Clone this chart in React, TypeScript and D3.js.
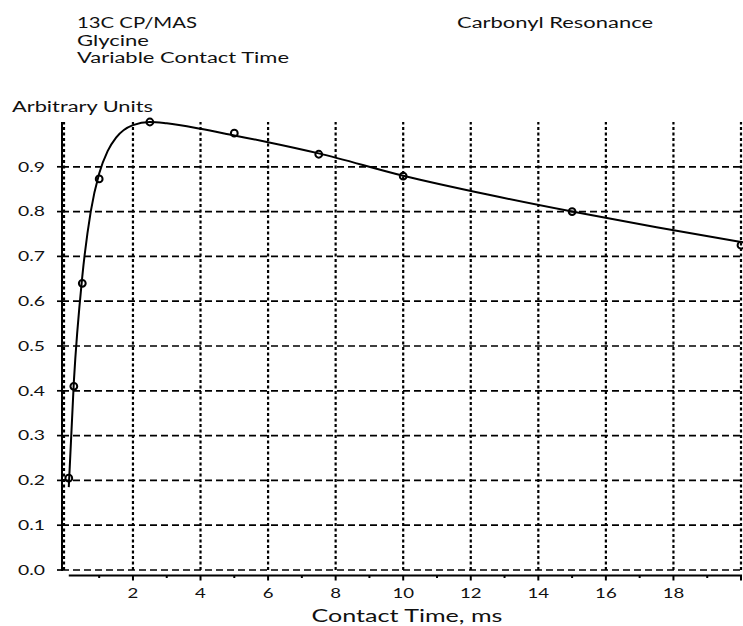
import React from "react";
import * as d3 from "d3";

const titleLines = ["13C CP/MAS", "Glycine", "Variable Contact Time"];
const titleWidths = [120, 72, 212];
const subtitle = "Carbonyl Resonance";
const yLabel = "Arbitrary Units";
const xLabel = "Contact Time, ms";

// measured points
const contactTimes = [0.1, 0.25, 0.5, 1.0, 2.5, 5, 7.5, 10, 15, 20];
const intensities = [0.205, 0.41, 0.64, 0.873, 1.0, 0.975, 0.928, 0.879, 0.80, 0.725];

// fitted curve
const fitTimes = [0.1, 0.25, 0.5, 0.75, 1.0, 1.25, 1.5, 2.0, 2.5, 3.0, 4.0, 5.0, 6.0, 7.5, 10, 12.5, 15, 17.5, 20];
const fitValues = [0.185, 0.42, 0.655, 0.8, 0.885, 0.935, 0.965, 0.993, 1.0, 0.997, 0.985, 0.97, 0.955, 0.93, 0.88, 0.838, 0.8, 0.765, 0.732];

const xMajorTicks = [2, 4, 6, 8, 10, 12, 14, 16, 18, 20];
const xTickLabels = ["2", "4", "6", "8", "10", "12", "14", "16", "18", ""];
const xMinorTicks = [1, 3, 5, 7, 9, 11, 13, 15, 17, 19];
const yTicks = [0.0, 0.1, 0.2, 0.3, 0.4, 0.5, 0.6, 0.7, 0.8, 0.9];

const W = 743;
const H = 626;
const FONT = "Lato, 'Open Sans', sans-serif";

function SText({ x, y, children, size, anchor = "start", sx = 1.38 }: any) {
  return (
    <g transform={`translate(${x},${y}) scale(${sx},1)`}>
      <text fontFamily={FONT} fontSize={size} textAnchor={anchor} fill="#111">
        {children}
      </text>
    </g>
  );
}

function LText({ x, y, children, size, width, anchor = "start" }: any) {
  return (
    <text
      x={x}
      y={y}
      fontFamily={FONT}
      fontSize={size}
      textAnchor={anchor}
      textLength={width}
      lengthAdjust="spacingAndGlyphs"
      fill="#111"
    >
      {children}
    </text>
  );
}

export default function App() {
  const x = d3.scaleLinear().domain([0, 20]).range([65.4, 741]);
  const y = d3.scaleLinear().domain([0, 1]).range([570, 122]);
  const axisLeftX = 62;
  const axisBottomY = 575.5;

  const line = d3
    .line<number>()
    .x((_, i) => x(fitTimes[i]))
    .y((d) => y(d))
    .curve(d3.curveMonotoneX);

  return (
    <svg
      width={W}
      height={H}
      style={{ position: "absolute", left: 0, top: 0, background: "#fff" }}
    >
      <rect width={W} height={H} fill="#fff" />
      {titleLines.map((t, i) => (
        <LText key={t} x={77} y={28 + i * 17.6} size={14.5} width={titleWidths[i]}>
          {t}
        </LText>
      ))}
      <LText x={457} y={28} size={14.5} width={196}>
        {subtitle}
      </LText>
      <LText x={12} y={112} size={14.5} width={141}>
        {yLabel}
      </LText>

      {/* horizontal dashed grid */}
      {yTicks.map((v) => (
        <line
          key={"h" + v}
          x1={axisLeftX}
          x2={742}
          y1={y(v)}
          y2={y(v)}
          stroke="#000"
          strokeWidth={1.7}
          strokeDasharray="7,4"
        />
      ))}
      {/* vertical dotted grid */}
      {[0, ...xMajorTicks].map((v) => (
        <line
          key={"v" + v}
          x1={v === 0 ? axisLeftX + 2 : x(v)}
          x2={v === 0 ? axisLeftX + 2 : x(v)}
          y1={y(0)}
          y2={y(1)}
          stroke="#000"
          strokeWidth={2.2}
          strokeDasharray="3,2.5"
        />
      ))}

      {/* y axis */}
      <line x1={axisLeftX} x2={axisLeftX} y1={y(0) + 1} y2={y(1)} stroke="#000" strokeWidth={2} />
      {yTicks.map((v) => (
        <g key={"yt" + v}>
          <line x1={axisLeftX - 5} x2={axisLeftX} y1={y(v)} y2={y(v)} stroke="#000" strokeWidth={1.7} />
          <SText x={45} y={y(v) + 4.8} size={14} anchor="end" sx={1.38}>
            {d3.format(".1f")(v)}
          </SText>
        </g>
      ))}

      {/* x axis */}
      <line x1={x(0.1)} x2={742} y1={axisBottomY} y2={axisBottomY} stroke="#000" strokeWidth={2} />
      {xMajorTicks.map((v, i) => (
        <g key={"xt" + v}>
          <line x1={x(v)} x2={x(v)} y1={axisBottomY} y2={axisBottomY + 5} stroke="#000" strokeWidth={2} />
          <SText x={x(v)} y={597.5} size={13.5} anchor="middle" sx={1.38}>
            {xTickLabels[i]}
          </SText>
        </g>
      ))}
      {xMinorTicks.map((v) => (
        <line key={"xm" + v} x1={x(v)} x2={x(v)} y1={axisBottomY} y2={axisBottomY + 2.5} stroke="#000" strokeWidth={2} />
      ))}
      <LText x={407} y={621.5} size={17.5} width={191} anchor="middle">
        {xLabel}
      </LText>

      {/* fit curve */}
      <path d={line(fitValues) || ""} fill="none" stroke="#000" strokeWidth={2} />

      {/* data points */}
      {contactTimes.map((t, i) => (
        <circle
          key={"p" + i}
          cx={x(t)}
          cy={y(intensities[i])}
          r={3.4}
          fill="none"
          stroke="#000"
          strokeWidth={2}
        />
      ))}
    </svg>
  );
}
